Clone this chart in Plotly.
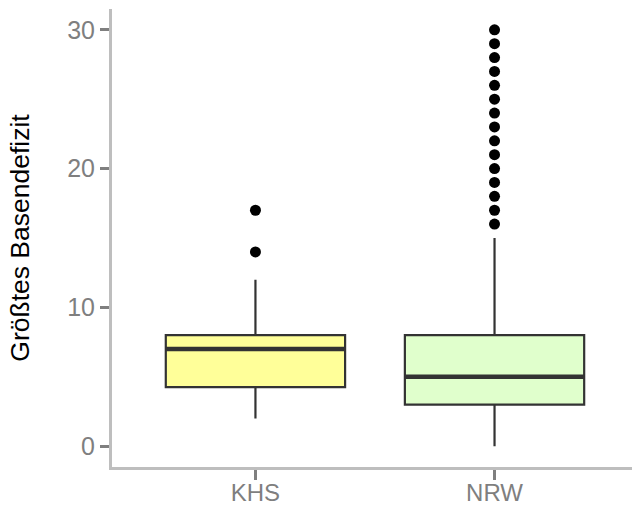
import plotly.graph_objects as go

categories = ["KHS", "NRW"]
q1 = [4.25, 3]
median = [7, 5]
q3 = [8, 8]
lower_whisker = [2, 0]
upper_whisker = [12, 15]
outliers = [
    [14, 17],
    [16, 17, 18, 19, 20, 21, 22, 23, 24, 25, 26, 27, 28, 29, 30],
]
fill_colors = ["#FFFF99", "#E0FFCC"]
y_ticks = [0, 10, 20, 30]

box_width = 0.75
line_col = "#333333"
font_family = "Liberation Sans, Arial, sans-serif"

fig = go.Figure()
for i, cat in enumerate(categories):
    fig.add_trace(go.Box(
        x=[i], q1=[q1[i]], median=[median[i]], q3=[q3[i]],
        lowerfence=[lower_whisker[i]], upperfence=[upper_whisker[i]],
        width=box_width, fillcolor=fill_colors[i],
        line=dict(color=line_col, width=2.2),
        boxpoints=False, whiskerwidth=0, showlegend=False, hoverinfo="skip",
    ))
    # thicker median line (ggplot style)
    fig.add_trace(go.Scatter(
        x=[i - box_width / 2, i + box_width / 2], y=[median[i], median[i]],
        mode="lines", line=dict(color=line_col, width=4.5),
        showlegend=False, hoverinfo="skip",
    ))
    fig.add_trace(go.Scatter(
        x=[i] * len(outliers[i]), y=outliers[i], mode="markers",
        marker=dict(color="black", size=11, line=dict(width=0)),
        showlegend=False, hoverinfo="skip",
    ))

fig.update_layout(
    width=632, height=509,
    margin=dict(l=112, r=0, t=9, b=42),
    plot_bgcolor="white", paper_bgcolor="white",
    font=dict(family=font_family),
)
fig.update_xaxes(
    range=[-0.6, 1.575], tickmode="array",
    tickvals=list(range(len(categories))), ticktext=categories,
    showline=True, linecolor="#bebebe", linewidth=3,
    ticks="outside", ticklen=10, tickwidth=3, tickcolor="#7f7f7f",
    ticklabelstandoff=-8,
    tickfont=dict(size=24, color="#7f7f7f", family=font_family),
    showgrid=False, zeroline=False, automargin=False,
)
fig.update_yaxes(
    range=[-1.5, 31.5], tickmode="array", tickvals=y_ticks,
    ticktext=[str(v) for v in y_ticks],
    showline=True, linecolor="#bebebe", linewidth=3,
    ticks="outside", ticklen=9, tickwidth=3, tickcolor="#7f7f7f",
    tickfont=dict(size=25, color="#7f7f7f", family=font_family),
    showgrid=False, zeroline=False, automargin=False,
    title=dict(text="Größtes Basendefizit", standoff=30,
               font=dict(size=26.5, color="black", family=font_family)),
)

fig.write_html(
    "out.html",
    config={"displayModeBar": False},
    post_script="document.body.style.margin='0';document.body.style.overflow='hidden';",
)
